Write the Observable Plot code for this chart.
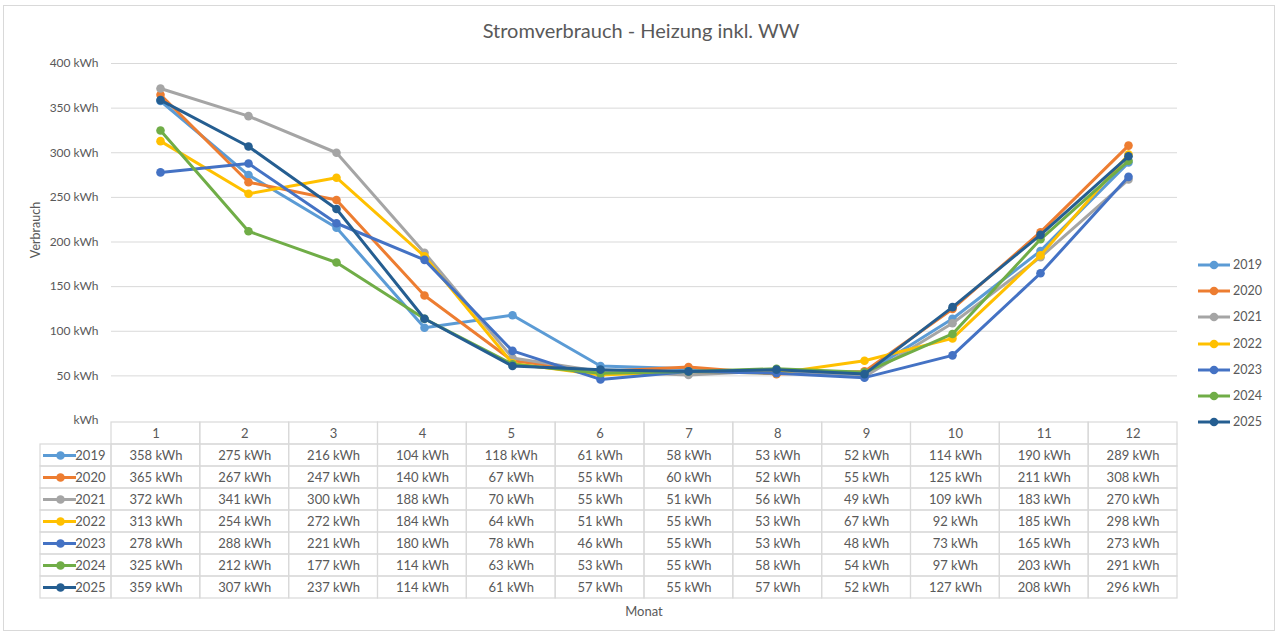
<!DOCTYPE html>
<html>
<head>
<meta charset="utf-8">
<script src="https://cdn.jsdelivr.net/npm/d3@7"></script>
<script src="https://cdn.jsdelivr.net/npm/@observablehq/plot@0.6"></script>
<style>
  html, body { margin: 0; padding: 0; background: #fff; }
  #root { position: relative; width: 1280px; height: 633px; overflow: hidden; font-family: Lato, "Open Sans", sans-serif; color: #595959; }
  #border { position: absolute; left: 3px; top: 5px; width: 1272px; height: 626px; border: 1px solid #d9d9d9; box-sizing: border-box; }
  #title { position: absolute; left: 0; width: 1282px; top: 18px; text-align: center; font-size: 20px; color: #595959; }
  #ylabel { position: absolute; left: 35px; top: 230px; transform: translate(-50%, -50%) rotate(-90deg); font-size: 12.5px; white-space: nowrap; }
  #xlabel { position: absolute; left: 644px; top: 611px; transform: translate(-50%, -50%); font-size: 13px; }
  #chart, #table { position: absolute; left: 0; }
  #chart { top: 0; }
  #table { top: 420px; }
  #legend { position: absolute; left: 1197px; top: 257px; font-size: 12.5px; }
  .item { height: 26.2px; display: flex; align-items: flex-start; }
  .item svg { margin-right: 2px; margin-top: 2px; }
  svg { overflow: visible; }
</style>
</head>
<body>
<div id="root">
  <div id="border"></div>
  <div id="title">Stromverbrauch - Heizung inkl. WW</div>
  <div id="chart"></div>
  <div id="table"></div>
  <div id="ylabel">Verbrauch</div>
  <div id="xlabel">Monat</div>
  <div id="legend"></div>
</div>
<script>
// ---- Data ----
const months = [1, 2, 3, 4, 5, 6, 7, 8, 9, 10, 11, 12];
const years = ["2019", "2020", "2021", "2022", "2023", "2024", "2025"];
const v2019 = [358, 275, 216, 104, 118, 61, 58, 53, 52, 114, 190, 289];
const v2020 = [365, 267, 247, 140, 67, 55, 60, 52, 55, 125, 211, 308];
const v2021 = [372, 341, 300, 188, 70, 55, 51, 56, 49, 109, 183, 270];
const v2022 = [313, 254, 272, 184, 64, 51, 55, 53, 67, 92, 185, 298];
const v2023 = [278, 288, 221, 180, 78, 46, 55, 53, 48, 73, 165, 273];
const v2024 = [325, 212, 177, 114, 63, 53, 55, 58, 54, 97, 203, 291];
const v2025 = [359, 307, 237, 114, 61, 57, 55, 57, 52, 127, 208, 296];
const seriesValues = [v2019, v2020, v2021, v2022, v2023, v2024, v2025];
const colors = ["#5B9BD5", "#ED7D31", "#A5A5A5", "#FFC000", "#4472C4", "#70AD47", "#255E91"];
const unit = "kWh";

const rows = years.flatMap((yr, i) => seriesValues[i].map((v, j) => ({year: yr, month: months[j], value: v})));

const font = "Lato, 'Open Sans', sans-serif";
const textColor = "#595959";
const gridColor = "#d9d9d9";

// ---- Chart ----
const lineMarks = years.flatMap(yr => [
  Plot.line(rows.filter(d => d.year === yr), {x: "month", y: "value", stroke: "year", strokeWidth: 3, strokeLinejoin: "round", strokeLinecap: "round"}),
  Plot.dot(rows.filter(d => d.year === yr), {x: "month", y: "value", fill: "year", r: 4.3})
]);

const chart = Plot.plot({
  width: 1280,
  height: 421,
  marginTop: 63,
  marginBottom: 1,
  marginLeft: 111,
  marginRight: 103,
  style: {fontFamily: font, fontSize: "12px", color: textColor, background: "transparent", overflow: "visible"},
  x: {type: "point", domain: months, padding: 0.5, axis: null},
  y: {domain: [0, 400], ticks: 8, tickSize: 0, tickPadding: 13, label: null,
      tickFormat: d => d === 0 ? unit : `${d} ${unit}`},
  color: {domain: years, range: colors},
  marks: [
    Plot.ruleY(d3.ticks(0, 400, 8).filter(d => d > 0), {stroke: gridColor, strokeWidth: 1}),
    ...lineMarks
  ]
});
document.getElementById("chart").append(chart);

// ---- Data table ----
const bandPx = (1280 - 111 - 103) / 12;
const pxToX = px => 0.5 + (px - 111) / bandPx;
const headerKey = "M";
const headerCells = months.map(m => ({row: headerKey, month: m}));

const table = Plot.plot({
  width: 1280,
  height: 180,
  marginTop: 1,
  marginBottom: 1,
  marginLeft: 111,
  marginRight: 103,
  style: {fontFamily: font, fontSize: "12px", color: textColor, background: "transparent", overflow: "visible"},
  x: {domain: [0.5, 12.5], axis: null},
  y: {domain: [headerKey, ...years], padding: 0, axis: null},
  color: {domain: years, range: colors},
  marks: [
    Plot.barX(headerCells, {x1: d => d.month - 0.5, x2: d => d.month + 0.5, y: "row", fill: "none", stroke: gridColor, strokeWidth: 1.2}),
    Plot.barX(rows, {x1: d => d.month - 0.5, x2: d => d.month + 0.5, y: "year", fill: "none", stroke: gridColor, strokeWidth: 1.2}),
    Plot.barX(years, {x1: pxToX(40), x2: 0.5, y: d => d, fill: "none", stroke: gridColor, strokeWidth: 1.2}),
    Plot.text(months, {x: d => d, y: () => headerKey, text: d => String(d), fill: textColor, fontSize: 13}),
    Plot.text(rows, {x: "month", y: "year", text: d => `${d.value} ${unit}`, fill: textColor, fontSize: 13}),
    Plot.ruleY(years, {y: d => d, x1: pxToX(43), x2: pxToX(76), stroke: d => d, strokeWidth: 3}),
    Plot.dot(years, {x: pxToX(60), y: d => d, fill: d => d, r: 4.3}),
    Plot.text(years, {x: 0.5, y: d => d, text: d => d, textAnchor: "end", dx: -6, fill: textColor, fontSize: 13})
  ]
});
document.getElementById("table").append(table);

// ---- Legend (right) ----
const legend = d3.select("#legend");
years.forEach((yr, i) => {
  const item = legend.append("div").attr("class", "item");
  const s = item.append("svg").attr("width", 34).attr("height", 12);
  s.append("line").attr("x1", 1).attr("x2", 33).attr("y1", 6).attr("y2", 6).attr("stroke", colors[i]).attr("stroke-width", 3);
  s.append("circle").attr("cx", 17).attr("cy", 6).attr("r", 4.3).attr("fill", colors[i]);
  item.append("span").text(yr);
});
</script>
</body>
</html>
